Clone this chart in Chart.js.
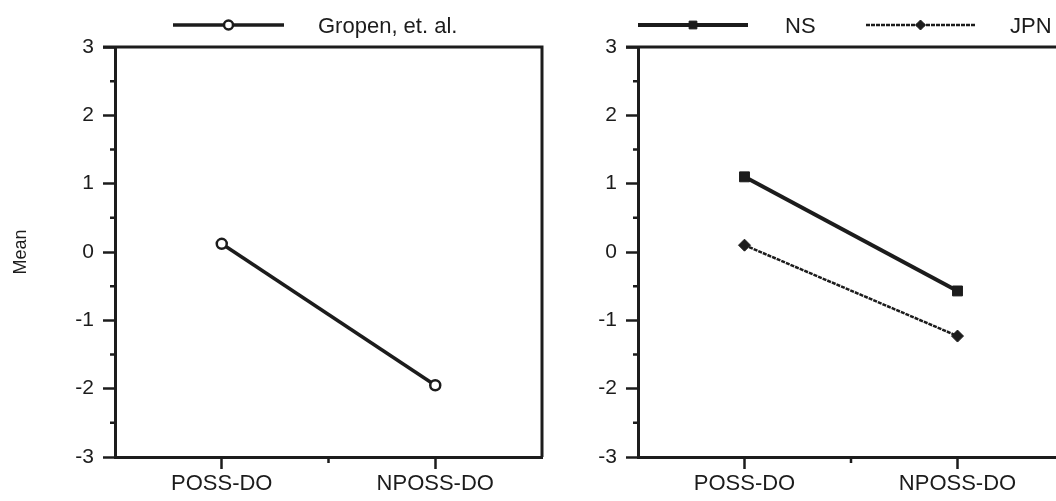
<!DOCTYPE html>
<html>
<head>
<meta charset="utf-8">
<script src="https://cdn.jsdelivr.net/npm/chart.js@4.4.0/dist/chart.umd.min.js"></script>
<style>
  body { margin: 0; background: #fff; width: 1056px; height: 501px; overflow: hidden; position: relative; }
  #left { position: absolute; left: 0; top: 0; }
  #right { position: absolute; left: 560px; top: 0; }
</style>
</head>
<body>
<canvas id="left" width="560" height="501"></canvas>
<canvas id="right" width="520" height="501"></canvas>
<script>
// values
var categories = ['POSS-DO', 'NPOSS-DO'];
var gropen = [0.12, -1.95];
var ns = [1.1, -0.57];
var jpn = [0.1, -1.23];
var yMin = -3, yMax = 3, yStep = 1;

var ink = '#1c1c1c';
var font = "'Liberation Sans', Arial, Helvetica, sans-serif";

// top/right frame, minor ticks and the legend above the plot
var framePlugin = {
    id: 'frame',
    afterDraw: function(chart, args, opts) {
        var ctx = chart.ctx, a = chart.chartArea;
        var x = chart.scales.x, y = chart.scales.y;
        ctx.save();
        ctx.strokeStyle = ink;
        ctx.lineWidth = 3;
        ctx.beginPath();
        ctx.moveTo(a.left - 12, a.top);
        ctx.lineTo(a.right, a.top);
        ctx.lineTo(a.right, a.bottom);
        ctx.stroke();

        // half unit ticks on y
        ctx.lineWidth = 2.5;
        ctx.beginPath();
        for (var v = yMin + yStep / 2; v < yMax; v += yStep) {
            var py = y.getPixelForValue(v);
            ctx.moveTo(a.left - 5, py);
            ctx.lineTo(a.left, py);
        }
        // tick between the two categories
        var mx = (x.getPixelForValue(0) + x.getPixelForValue(1)) / 2;
        ctx.moveTo(mx, a.bottom);
        ctx.lineTo(mx, a.bottom + 6);
        ctx.stroke();

        // legend
        var items = opts.items || [];
        ctx.font = '22px ' + font;
        ctx.textBaseline = 'middle';
        items.forEach(function(it) {
            var ds = chart.data.datasets[it.dataset];
            ctx.strokeStyle = ink;
            ctx.lineWidth = ds.borderWidth;
            ctx.setLineDash(ds.borderDash || []);
            ctx.beginPath();
            ctx.moveTo(it.x0, it.y);
            ctx.lineTo(it.x1, it.y);
            ctx.stroke();
            ctx.setLineDash([]);
            ctx.fillStyle = ds.pointBackgroundColor;
            ctx.lineWidth = ds.pointBorderWidth;
            Chart.helpers.drawPoint(ctx, {
                pointStyle: ds.pointStyle,
                radius: it.r || ds.pointRadius,
                borderWidth: ds.pointBorderWidth
            }, (it.x0 + it.x1) / 2, it.y);
            ctx.fillStyle = ink;
            ctx.fillText(ds.label, it.tx, it.y + 2);
        });
        ctx.restore();
    }
};

function makeScales(yWidth, showTitle) {
    return {
        x: {
            type: 'category',
            offset: true,
            grid: { offset: false, drawOnChartArea: false, tickLength: 12, tickColor: ink, tickWidth: 2.5 },
            border: { color: ink, width: 3 },
            ticks: { color: ink, font: { family: font, size: 22 }, padding: 2 },
            afterFit: function(s) { s.height = 44; }
        },
        y: {
            min: yMin,
            max: yMax,
            grid: { drawOnChartArea: false, tickLength: 12, tickColor: ink, tickWidth: 2.5 },
            border: { color: ink, width: 3 },
            ticks: { stepSize: yStep, color: ink, font: { family: font, size: 21 }, padding: 9 },
            title: { display: showTitle, text: 'Mean', color: ink, font: { family: font, size: 18 }, padding: { top: 10, bottom: 0 } },
            afterFit: function(s) { s.width = yWidth; }
        }
    };
}

var ctx = document.getElementById('left').getContext('2d');
var leftChart = new Chart(ctx, {
    type: 'line',
    data: {
        labels: categories,
        datasets: [{
            label: 'Gropen, et. al.',
            data: gropen,
            borderColor: ink,
            borderWidth: 3.5,
            pointStyle: 'circle',
            pointRadius: 5,
            pointBorderWidth: 2.5,
            pointBackgroundColor: '#fff',
            pointBorderColor: ink,
            tension: 0
        }]
    },
    options: {
        responsive: false,
        animation: false,
        layout: { padding: { top: 47, right: 18, left: 0, bottom: 0 } },
        plugins: {
            legend: { display: false },
            tooltip: { enabled: false },
            frame: { items: [{ dataset: 0, x0: 173, x1: 284, y: 25, tx: 318, r: 4.5 }] }
        },
        scales: makeScales(115, true)
    },
    plugins: [framePlugin]
});

var ctx2 = document.getElementById('right').getContext('2d');
var rightChart = new Chart(ctx2, {
    type: 'line',
    data: {
        labels: categories,
        datasets: [{
            label: 'NS',
            data: ns,
            borderColor: ink,
            borderWidth: 4,
            pointStyle: 'rect',
            pointRadius: 7,
            pointBorderWidth: 1,
            pointBackgroundColor: ink,
            pointBorderColor: ink,
            tension: 0
        }, {
            label: 'JPN',
            data: jpn,
            borderColor: ink,
            borderWidth: 2.5,
            borderDash: [4, 1],
            pointStyle: 'rectRot',
            pointRadius: 6,
            pointBorderWidth: 1,
            pointBackgroundColor: ink,
            pointBorderColor: ink,
            tension: 0
        }]
    },
    options: {
        responsive: false,
        animation: false,
        layout: { padding: { top: 47, right: 16, left: 0, bottom: 0 } },
        plugins: {
            legend: { display: false },
            tooltip: { enabled: false },
            frame: { items: [
                { dataset: 0, x0: 78, x1: 188, y: 25, tx: 225, r: 5.5 },
                { dataset: 1, x0: 306, x1: 415, y: 25, tx: 450, r: 5 }
            ] }
        },
        scales: makeScales(78, false)
    },
    plugins: [framePlugin]
});
</script>
</body>
</html>
